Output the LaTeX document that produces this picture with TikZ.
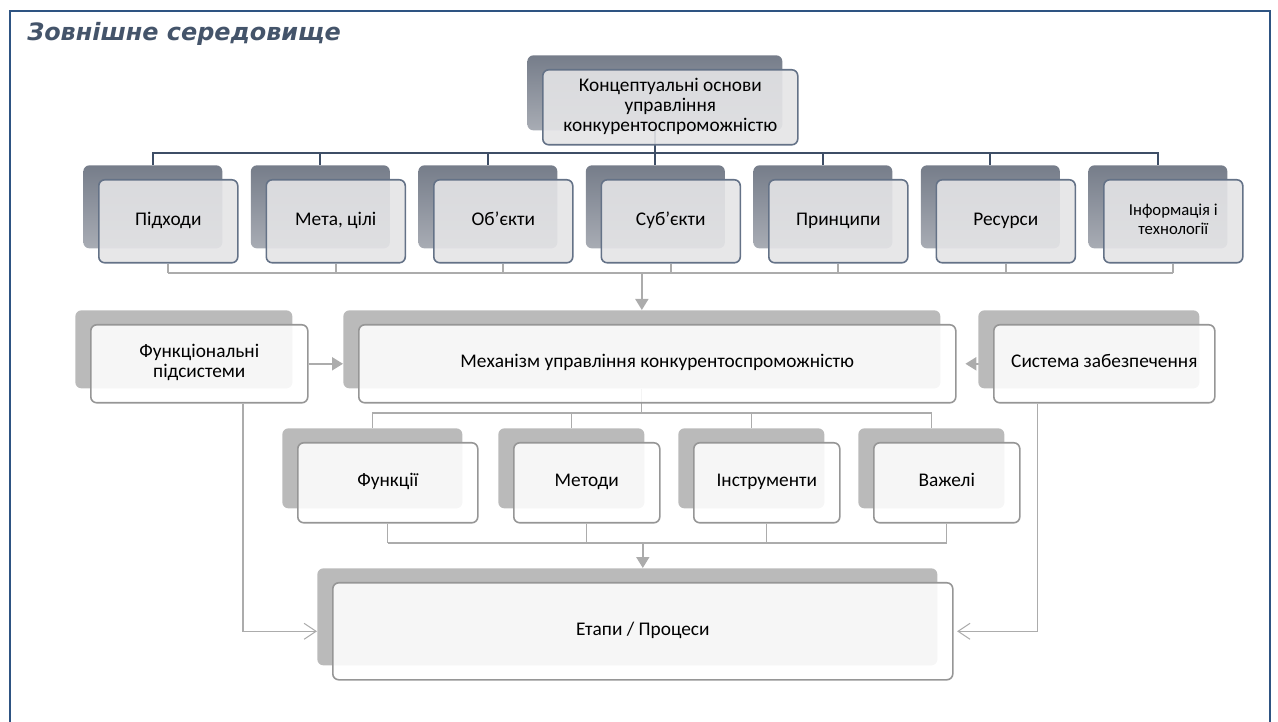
\documentclass[tikz,border=0pt]{standalone}
\usepackage{fontspec}
\setmainfont{Carlito}
\newfontfamily\titleFont{DejaVu Sans}
\usepackage{tikz}
\usetikzlibrary{arrows.meta, backgrounds, calc}
\definecolor{frameBlue}{RGB}{46,84,130}
\definecolor{titleSlate}{RGB}{68,84,106}
\definecolor{slateTop}{RGB}{118,125,138}
\definecolor{slateBottom}{RGB}{168,172,180}
\definecolor{slateBorder}{RGB}{100,114,135}
\definecolor{paleFill}{RGB}{228,228,230}
\definecolor{greyBackColor}{RGB}{186,186,186}
\definecolor{greyBorder}{RGB}{150,150,150}
\definecolor{darkLinkColor}{RGB}{62,78,102}
\definecolor{lightLinkColor}{RGB}{172,172,172}
\newcommand{\boxFont}{\fontsize{11}{11.5}\selectfont}
\newcommand{\pxLen}{0.02cm}
\newcommand{\shiftX}{15}
\newcommand{\shiftY}{14}
\tikzstyle{sheet} = [x = 0.02cm, y = -0.02cm]
\tikzstyle{titleText} = [font=\titleFont\bfseries\itshape\fontsize{13.6}{13.6}\selectfont, color=titleSlate, inner sep=0pt]
\tikzstyle{frameLine} = [color=frameBlue, line width=1.4pt]
\tikzstyle{slateBack} = [anchor=north west, rounded corners=0.12cm, top color=slateTop, bottom color=slateBottom]
\tikzstyle{slateFront} = [anchor=north west, rounded corners=0.12cm, draw=slateBorder, line width=0.9pt, fill=paleFill, fill opacity=0.9, text opacity=1, align=center, inner sep=2pt, font=\boxFont]
\tikzstyle{greyBack} = [anchor=north west, rounded corners=0.12cm, fill=greyBackColor]
\tikzstyle{greyFront} = [anchor=north west, rounded corners=0.12cm, draw=greyBorder, line width=0.9pt, fill=white, fill opacity=0.88, text opacity=1, align=center, inner sep=2pt, font=\boxFont]
\tikzstyle{darkLink} = [color=darkLinkColor, line width=1.2pt]
\tikzstyle{lightLink} = [color=lightLinkColor, line width=1pt]
\tikzstyle{thinLink} = [color=lightLinkColor, line width=0.6pt]
\tikzstyle{solidTip} = [-{Triangle[length=2.2mm, width=2.6mm]}]
\tikzstyle{openTip} = [-{Straight Barb[length=2.4mm, width=3.2mm]}]
% back plate + front card, text on the card
\newcommand{\pairBox}[8]{
  \node [#2, minimum width=#6*\pxLen, minimum height=#7*\pxLen] (#1Back) at (#4,#5) {};
  \node [#3, minimum width=#6*\pxLen, minimum height=#7*\pxLen] (#1) at (#4+\shiftX,#5+\shiftY) {\strut #8\strut};
}
\begin{document}
\begin{tikzpicture}[sheet]
  \useasboundingbox (0,0) rectangle (1278,722);
  \draw [frameLine] (10,722) -- (10,11) -- (1270,11) -- (1270,722);
  \node [titleText, anchor=west] (outerEnv) at (27,34) {Зовнішне середовище};

  \pairBox{concept}{slateBack}{slateFront}{527}{55}{255}{75}{Концептуальні основи\\управління\\конкурентоспроможністю}

  \pairBox{approaches}{slateBack}{slateFront}{83}{165}{139}{83}{Підходи}
  \pairBox{goals}{slateBack}{slateFront}{250.5}{165}{139}{83}{Мета, цілі}
  \pairBox{objects}{slateBack}{slateFront}{418}{165}{139}{83}{Об'єкти}
  \pairBox{subjects}{slateBack}{slateFront}{585.5}{165}{139}{83}{Суб'єкти}
  \pairBox{principles}{slateBack}{slateFront}{753}{165}{139}{83}{Принципи}
  \pairBox{resources}{slateBack}{slateFront}{920.5}{165}{139}{83}{Ресурси}
  \pairBox{information}{slateBack}{slateFront, font=\fontsize{9.5}{10.5}\selectfont}{1088}{165}{139}{83}{Інформація і\\технології}

  \pairBox{functionalSub}{greyBack}{greyFront}{75}{310}{217}{78}{Функціональні\\підсистеми}
  \pairBox{mechanism}{greyBack}{greyFront}{343}{310}{597}{78}{Механізм управління конкурентоспроможністю}
  \pairBox{support}{greyBack}{greyFront}{978}{310}{221}{78}{Система забезпечення}

  \pairBox{functions}{greyBack}{greyFront}{282}{428}{180}{80}{Функції}
  \pairBox{methods}{greyBack}{greyFront}{498}{428}{146}{80}{Методи}
  \pairBox{instruments}{greyBack}{greyFront}{678}{428}{146}{80}{Інструменти}
  \pairBox{levers}{greyBack}{greyFront}{858}{428}{146}{80}{Важелі}

  \pairBox{stages}{greyBack}{greyFront}{317}{568}{620}{97}{Етапи / Процеси}

  \coordinate (upperBus) at (0,153);
  \coordinate (lowerBus) at (0,273);
  \coordinate (mechBus) at (0,413);
  \coordinate (stageBus) at (0,543);

  \begin{pgfonlayer}{background}
    \foreach \boxName in {approaches, goals, objects, subjects, principles, resources, information} {
      \draw [darkLink] (conceptBack.south) |- (upperBus -| \boxName Back.north) -- (\boxName Back.north);
      \draw [lightLink] (\boxName.south) -- (\boxName.south |- lowerBus);
    }
    \draw [lightLink] (approaches.south |- lowerBus) -- (information.south |- lowerBus);
    \draw [lightLink, solidTip] (mechanismBack.north |- lowerBus) -- (mechanismBack.north);

    \draw [lightLink, line width=1.2pt, solidTip] (functionalSub.east) -- (mechanismBack.west |- functionalSub.east);
    \draw [lightLink, line width=1.2pt, solidTip, shorten >=5pt] (support.west) -- (mechanism.east |- support.west);

    \foreach \boxName in {functions, methods, instruments, levers} {
      \draw [thinLink] (mechanismBack.south) |- (mechBus -| \boxName Back.north) -- (\boxName Back.north);
      \draw [thinLink] (\boxName.south) -- (\boxName.south |- stageBus);
    }
    \draw [thinLink] (functions.south |- stageBus) -- (levers.south |- stageBus);
    \draw [lightLink, solidTip] (stages.north |- stageBus) -- (stages.north |- stagesBack.north);

    \draw [thinLink, openTip] ($(functionalSub.south west)!0.7!(functionalSub.south east)$) |- (stagesBack.west |- stages.west);
    \draw [thinLink, openTip, shorten >=2pt] ($(support.south west)!0.2!(support.south east)$) |- (stages.east);
  \end{pgfonlayer}
\end{tikzpicture}
\end{document}
